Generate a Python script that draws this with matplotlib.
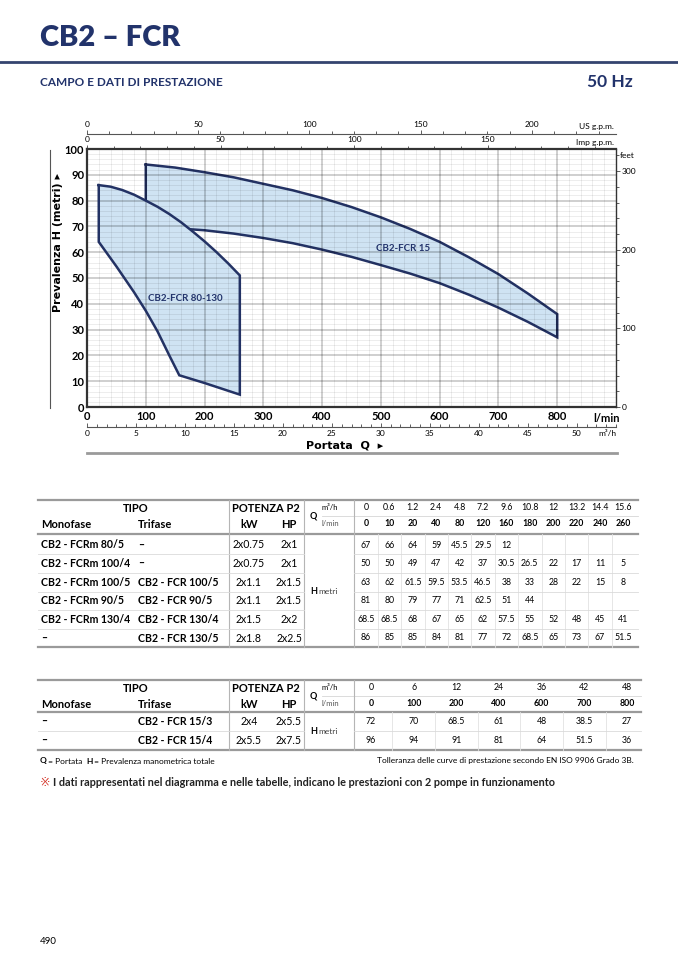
import matplotlib
matplotlib.use('Agg')
import matplotlib.pyplot as plt
from matplotlib.lines import Line2D
from matplotlib.ticker import MultipleLocator

# fonts: narrow face for the chart, Lato for the page and the tables
NARROW = ['Liberation Sans Narrow', 'Lato', 'DejaVu Sans']
TXT = ['Lato', 'DejaVu Sans']
plt.rcParams['font.family'] = NARROW

NAVY = '#22336b'
FILL = '#cfe3f3'
LINE = '#233264'

# ---- chart data ----
lmin_ticks = [0, 100, 200, 300, 400, 500, 600, 700, 800]
h_ticks = [0, 10, 20, 30, 40, 50, 60, 70, 80, 90, 100]
imp_ticks = [0, 50, 100, 150]
us_ticks = [0, 50, 100, 150, 200]
m3h_ticks = [0, 5, 10, 15, 20, 25, 30, 35, 40, 45, 50]
feet_ticks = [0, 100, 200, 300]

# CB2-FCR 80-130 field
fcr80_top_q = [20, 40, 60, 80, 100, 120, 140, 160, 180, 200, 220, 240, 260]
fcr80_top_h = [86, 85.4, 84.1, 82.3, 80, 77.6, 74.8, 71.6, 68, 64.2, 60.1, 55.7, 51]
fcr80_low_q = [20, 50, 80, 100, 120, 140, 157, 200, 260]
fcr80_low_h = [64, 54.5, 44.5, 37.3, 29.3, 20, 12.3, 9.3, 4.8]

# CB2-FCR 15 field
fcr15_q = [100, 150, 200, 250, 300, 350, 400, 450, 500, 550, 600, 650, 700, 750, 800]
fcr15_top_h = [94, 92.8, 91, 89, 86.5, 84, 81, 77.5, 73.5, 69, 64, 58, 51.5, 44, 36]
fcr15_low_h = [70, 69.3, 68.5, 67.2, 65.5, 63.5, 61, 58.2, 55, 51.7, 48, 43.5, 38.5, 33, 27]

# ---- table data ----
t1_m3h = ['0', '0.6', '1.2', '2.4', '4.8', '7.2', '9.6', '10.8', '12', '13.2', '14.4', '15.6']
t1_lmin = ['0', '10', '20', '40', '80', '120', '160', '180', '200', '220', '240', '260']
t1_mono = ['CB2 - FCRm 80/5', 'CB2 - FCRm 100/4', 'CB2 - FCRm 100/5', 'CB2 - FCRm 90/5', 'CB2 - FCRm 130/4', '–']
t1_tri = ['–', '–', 'CB2 - FCR 100/5', 'CB2 - FCR 90/5', 'CB2 - FCR 130/4', 'CB2 - FCR 130/5']
t1_kw = ['2x0.75', '2x0.75', '2x1.1', '2x1.1', '2x1.5', '2x1.8']
t1_hp = ['2x1', '2x1', '2x1.5', '2x1.5', '2x2', '2x2.5']
t1_h = [
    ['67', '66', '64', '59', '45.5', '29.5', '12', '', '', '', '', ''],
    ['50', '50', '49', '47', '42', '37', '30.5', '26.5', '22', '17', '11', '5'],
    ['63', '62', '61.5', '59.5', '53.5', '46.5', '38', '33', '28', '22', '15', '8'],
    ['81', '80', '79', '77', '71', '62.5', '51', '44', '', '', '', ''],
    ['68.5', '68.5', '68', '67', '65', '62', '57.5', '55', '52', '48', '45', '41'],
    ['86', '85', '85', '84', '81', '77', '72', '68.5', '65', '73', '67', '51.5'],
]

t2_m3h = ['0', '6', '12', '24', '36', '42', '48']
t2_lmin = ['0', '100', '200', '400', '600', '700', '800']
t2_mono = ['–', '–']
t2_tri = ['CB2 - FCR 15/3', 'CB2 - FCR 15/4']
t2_kw = ['2x4', '2x5.5']
t2_hp = ['2x5.5', '2x7.5']
t2_h = [
    ['72', '70', '68.5', '61', '48', '38.5', '27'],
    ['96', '94', '91', '81', '64', '51.5', '36'],
]

W, H = 678, 959
fig = plt.figure(figsize=(W / 100, H / 100), dpi=100)


def put(x, y, s, **kw):
    """Place text using page pixel coordinates (origin top-left)."""
    kw.setdefault('va', 'center')
    return fig.text(x / W, 1 - y / H, s, **kw)


def hline(y, x0, x1, color='#999999', lw=1.0):
    fig.add_artist(Line2D([x0 / W, x1 / W], [1 - y / H, 1 - y / H], color=color, lw=lw))


def vline(x, y0, y1, color='#999999', lw=1.0):
    fig.add_artist(Line2D([x / W, x / W], [1 - y0 / H, 1 - y1 / H], color=color, lw=lw))


# ---- page header ----
put(40, 38, 'CB2 – FCR', fontsize=21, fontweight='heavy', color=NAVY, family=TXT)
hline(62, 0, W, color='#34446f', lw=2)
put(40, 83, 'CAMPO E DATI DI PRESTAZIONE', fontsize=8.5, fontweight='bold', color=NAVY, family=TXT)
put(633, 82, '50 Hz', fontsize=12.5, fontweight='bold', color=NAVY, ha='right', family=TXT)

# ---- chart ----
ax = fig.add_axes([87 / W, 1 - 407 / H, (616 - 87) / W, (407 - 149) / H])
ax.set_xlim(0, 900)
ax.set_ylim(0, 100)

# CB2-FCR 15 field (drawn first, the 80-130 field covers its hidden part)
f15_x = fcr15_q + fcr15_q[::-1]
f15_y = fcr15_top_h + fcr15_low_h[::-1]
ax.fill(f15_x, f15_y, color=FILL, zorder=1.0, lw=0)
ax.plot(f15_x + [f15_x[0]], f15_y + [f15_y[0]], color=LINE, lw=1.8, zorder=1.05,
        solid_joinstyle='miter')

f80_x = fcr80_top_q + fcr80_low_q[::-1]
f80_y = fcr80_top_h + fcr80_low_h[::-1]
ax.fill(f80_x, f80_y, color=FILL, zorder=1.1, lw=0)
ax.plot(f80_x + [f80_x[0]], f80_y + [f80_y[0]], color=LINE, lw=1.8, zorder=3,
        solid_joinstyle='miter')

ax.text(168, 42, 'CB2-FCR 80-130', color=NAVY, fontsize=7, fontweight='bold',
        ha='center', va='center', zorder=4)
ax.text(538, 61.5, 'CB2-FCR 15', color=NAVY, fontsize=7, fontweight='bold',
        ha='center', va='center', zorder=4)

# grid (semi transparent so it shows through the fill)
ax.xaxis.set_minor_locator(MultipleLocator(20))
ax.yaxis.set_minor_locator(MultipleLocator(2))
ax.grid(which='major', color='black', alpha=0.24, lw=1.1)
ax.grid(which='minor', color='black', alpha=0.1, lw=0.5)
ax.xaxis.set_zorder(1.5)
ax.yaxis.set_zorder(1.5)

ax.set_xticks(lmin_ticks, labels=[str(v) for v in lmin_ticks], fontweight='bold', fontsize=8)
ax.set_yticks(h_ticks, labels=[str(v) for v in h_ticks], fontweight='bold', fontsize=8)
ax.tick_params(which='both', length=0)
ax.tick_params(axis='x', pad=3)
ax.tick_params(axis='y', pad=2)
for side in ['left', 'bottom', 'top']:
    ax.spines[side].set_linewidth(1.6)
    ax.spines[side].set_color('#333333')
ax.spines['right'].set_linewidth(1.0)
ax.spines['right'].set_color('#333333')

# Imp g.p.m. on the top spine
imp = ax.secondary_xaxis('top', functions=(lambda q: q / 4.54609, lambda g: g * 4.54609))
imp.set_xticks(imp_ticks)
imp.xaxis.set_minor_locator(MultipleLocator(10))
imp.tick_params(which='both', direction='out', width=0.6, color='#444444', labelsize=6, pad=1)
imp.tick_params(which='major', length=3)
imp.tick_params(which='minor', length=2)
imp.spines['top'].set_visible(False)

# US g.p.m. line above
us = ax.secondary_xaxis((407 - 134) / 258, functions=(lambda q: q / 3.78541, lambda g: g * 3.78541))
us.set_xticks(us_ticks)
us.xaxis.set_minor_locator(MultipleLocator(10))
us.tick_params(which='both', direction='out', width=0.6, color='#444444', labelsize=6, pad=1)
us.tick_params(which='major', length=3)
us.tick_params(which='minor', length=2)
us.spines['top'].set_linewidth(0.8)
us.spines['top'].set_color('#555555')

# m3/h line below
m3 = ax.secondary_xaxis((407 - 427) / 258, functions=(lambda q: q * 0.06, lambda m: m / 0.06))
m3.set_xticks(m3h_ticks)
m3.xaxis.set_minor_locator(MultipleLocator(1))
m3.tick_params(which='both', direction='in', width=0.6, color='#444444', labelsize=6, pad=2)
m3.tick_params(which='major', length=3)
m3.tick_params(which='minor', length=2)
m3.spines['bottom'].set_linewidth(0.8)
m3.spines['bottom'].set_color('#555555')

# feet on the right
ft = ax.secondary_yaxis('right', functions=(lambda m: m / 0.3048, lambda f: f * 0.3048))
ft.set_yticks(feet_ticks)
ft.yaxis.set_minor_locator(MultipleLocator(20))
ft.tick_params(which='both', direction='out', width=0.6, color='#444444', labelsize=6, pad=1)
ft.tick_params(which='major', length=3)
ft.tick_params(which='minor', length=2)
ft.spines['right'].set_visible(False)

put(614, 127, 'US g.p.m.', fontsize=6, ha='right')
put(614, 143, 'Imp g.p.m.', fontsize=6, ha='right')
put(620, 155, 'feet', fontsize=6, ha='left')
put(607, 418, 'l/min', fontsize=8, fontweight='bold', ha='center')
put(607, 434, 'm³/h', fontsize=6, ha='center')
put(345, 445, 'Portata  Q  ▸', fontsize=8, fontweight='bold', ha='center',
    family=['Liberation Sans Narrow', 'DejaVu Sans'])
fig.text(58 / W, 1 - 242 / H, 'Prevalenza H (metri) ▸', rotation=90, fontsize=8,
         fontweight='bold', ha='center', va='center', family=['Liberation Sans Narrow', 'DejaVu Sans'])
vline(50, 150, 408, color='#555555', lw=0.8)
hline(453, 87, 617, color='#9a9a9a', lw=2)


# ---- tables ----
def draw_table(top, r1, r2, sep, row_edges, num_x, right, m3h, lmin, mono, tri, kw, hp, hvals):
    bottom = row_edges[-1]
    hline(top, 38, right, color='#9a9a9a', lw=1.6)
    hline(sep, 38, right, color='#9a9a9a', lw=1.6)
    hline(bottom, 38, right, color='#9a9a9a', lw=1.6)
    hline((r1 + r2) / 2, 322, right, color='#d6d6d6', lw=0.6)
    for x in [229, 304, 354]:
        vline(x, top, bottom, color='#b5b5b5', lw=0.8)
    edges = [354] + [(a + b) / 2 for a, b in zip(num_x[:-1], num_x[1:])] + [right]
    for x in edges[1:-1]:
        vline(x, sep, bottom, color='#e2e2e2', lw=0.6)
    for y in row_edges[1:-1]:
        hline(y, 38, 304, color='#dadada', lw=0.6)
        hline(y, 354, right, color='#dadada', lw=0.6)

    put(136, r1, 'TIPO', fontsize=8, fontweight='bold', ha='center', family=TXT)
    put(266, r1, 'POTENZA P2', fontsize=8, fontweight='bold', ha='center', family=TXT)
    put(41, r2, 'Monofase', fontsize=8, fontweight='bold', family=TXT)
    put(138, r2, 'Trifase', fontsize=8, fontweight='bold', family=TXT)
    put(249, r2, 'kW', fontsize=8, fontweight='bold', ha='center', family=TXT)
    put(289, r2, 'HP', fontsize=8, fontweight='bold', ha='center', family=TXT)
    put(310, (r1 + r2) / 2, 'Q', fontsize=6.5, fontweight='bold', family=TXT)
    put(321, r1, 'm³/h', fontsize=5.5, family=TXT)
    put(321, r2, 'l/min', fontsize=5.5, color='#555555', family=TXT)
    for x, a, b in zip(num_x, m3h, lmin):
        put(x, r1, a, fontsize=6.3, ha='center', family=TXT)
        put(x, r2, b, fontsize=6.3, fontweight='bold', ha='center', family=TXT)

    centers = [(a + b) / 2 for a, b in zip(row_edges[:-1], row_edges[1:])]
    for i, y in enumerate(centers):
        put(41, y, mono[i], fontsize=7.6, fontweight='bold', family=TXT)
        put(138, y, tri[i], fontsize=7.6, fontweight='bold', family=TXT)
        put(249, y, kw[i], fontsize=7.6, ha='center', family=TXT)
        put(289, y, hp[i], fontsize=7.6, ha='center', family=TXT)
        for x, v in zip(num_x, hvals[i]):
            put(x, y, v, fontsize=6.3, ha='center', family=TXT)
    mid = (row_edges[0] + bottom) / 2
    put(310, mid, 'H', fontsize=6.5, fontweight='bold', family=TXT)
    put(318, mid, 'metri', fontsize=6, color='#444444', family=TXT)


t1_x = [366, 389.4, 412.8, 436.2, 459.6, 483, 506.4, 529.8, 553.2, 576.6, 600, 623.4]
t1_rows = [535.7 + 18.6 * i for i in range(7)]
draw_table(500, 508, 524, 534, t1_rows, t1_x, 638, t1_m3h, t1_lmin, t1_mono, t1_tri, t1_kw, t1_hp, t1_h)

t2_x = [371, 413.7, 456.3, 499, 541.7, 584.3, 627]
t2_rows = [712, 731, 750]
draw_table(680, 688, 704, 712, t2_rows, t2_x, 641, t2_m3h, t2_lmin, t2_mono, t2_tri, t2_kw, t2_hp, t2_h)

# ---- footer notes ----
put(40, 761, 'Q', fontsize=6, fontweight='bold', family=TXT)
put(46, 761, ' = Portata', fontsize=6, family=TXT)
put(86, 761, 'H', fontsize=6, fontweight='bold', family=TXT)
put(92, 761, ' = Prevalenza manometrica totale', fontsize=6, family=TXT)
put(634, 761, 'Tolleranza delle curve di prestazione secondo EN ISO 9906 Grado 3B.', fontsize=6,
    ha='right', family=TXT)
put(40, 783, '※', fontsize=9, color='#d63a2e', family=['DejaVu Sans', 'Noto Sans CJK SC'])
put(53, 783, 'I dati rappresentati nel diagramma e nelle tabelle, indicano le prestazioni con 2 pompe in funzionamento',
    fontsize=7.8, fontweight='bold', color='#222222', family=TXT)
put(40, 941, '490', fontsize=7, family=TXT)

fig.savefig('out.png', dpi=100)
